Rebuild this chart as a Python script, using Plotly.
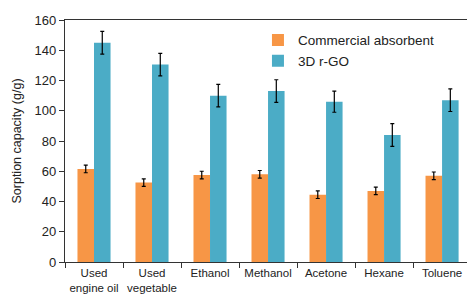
import plotly.graph_objects as go

categories = ["Used<br>engine oil", "Used<br>vegetable<br>oil", "Ethanol", "Methanol", "Acetone", "Hexane", "Toluene"]
commercial = [61.5, 52.5, 57.5, 58, 44.5, 47, 57]
commercial_err = [2.5, 2.5, 2.5, 2.5, 2.5, 2.5, 2.5]
rgo = [145, 130.5, 110, 113, 106, 84, 107]
rgo_err = [7.5, 7.5, 7.5, 7.5, 7.0, 7.5, 7.5]

err_style = dict(type="data", visible=True, color="#000000", thickness=1.2, width=2)

fig = go.Figure()
fig.add_trace(go.Bar(x=categories, y=commercial, name="Commercial absorbent",
                     marker=dict(color="#F79646", line=dict(width=0)),
                     error_y=dict(array=commercial_err, **err_style)))
fig.add_trace(go.Bar(x=categories, y=rgo, name="3D r-GO",
                     marker=dict(color="#4BACC6", line=dict(width=0)),
                     error_y=dict(array=rgo_err, **err_style)))

fig.update_layout(
    width=467, height=297,
    margin=dict(l=65, r=0, t=20, b=35),
    paper_bgcolor="white", plot_bgcolor="white",
    barmode="group", bargap=0.43, bargroupgap=0,
    font=dict(family="Liberation Sans, Arial, sans-serif", size=13, color="#222222"),
    legend=dict(x=0.48, y=0.98, xanchor="left", yanchor="top",
                bgcolor="rgba(0,0,0,0)", font=dict(size=13.5),
                itemwidth=30, tracegroupgap=0),
    showlegend=True,
)
fig.update_xaxes(
    type="category", range=[-0.5, 6.43], automargin=False, tickangle=0,
    showline=True, linecolor="#333333", linewidth=1.2, mirror=True,
    ticks="outside", ticklen=5, tickcolor="#333333", tickson="boundaries",
    tickfont=dict(size=11.5), showgrid=False,
)
fig.update_yaxes(
    range=[0, 160], dtick=20, automargin=False,
    showline=True, linecolor="#333333", linewidth=1.2,
    ticks="outside", ticklen=5, tickcolor="#333333",
    tickfont=dict(size=13), showgrid=False, zeroline=False,
    title=dict(text="Sorption capacity (g/g)", font=dict(size=12.5), standoff=10),
)

fig.write_html("out.html", config={"displayModeBar": False},
               post_script="document.body.style.margin='0';document.body.style.overflow='hidden';")
